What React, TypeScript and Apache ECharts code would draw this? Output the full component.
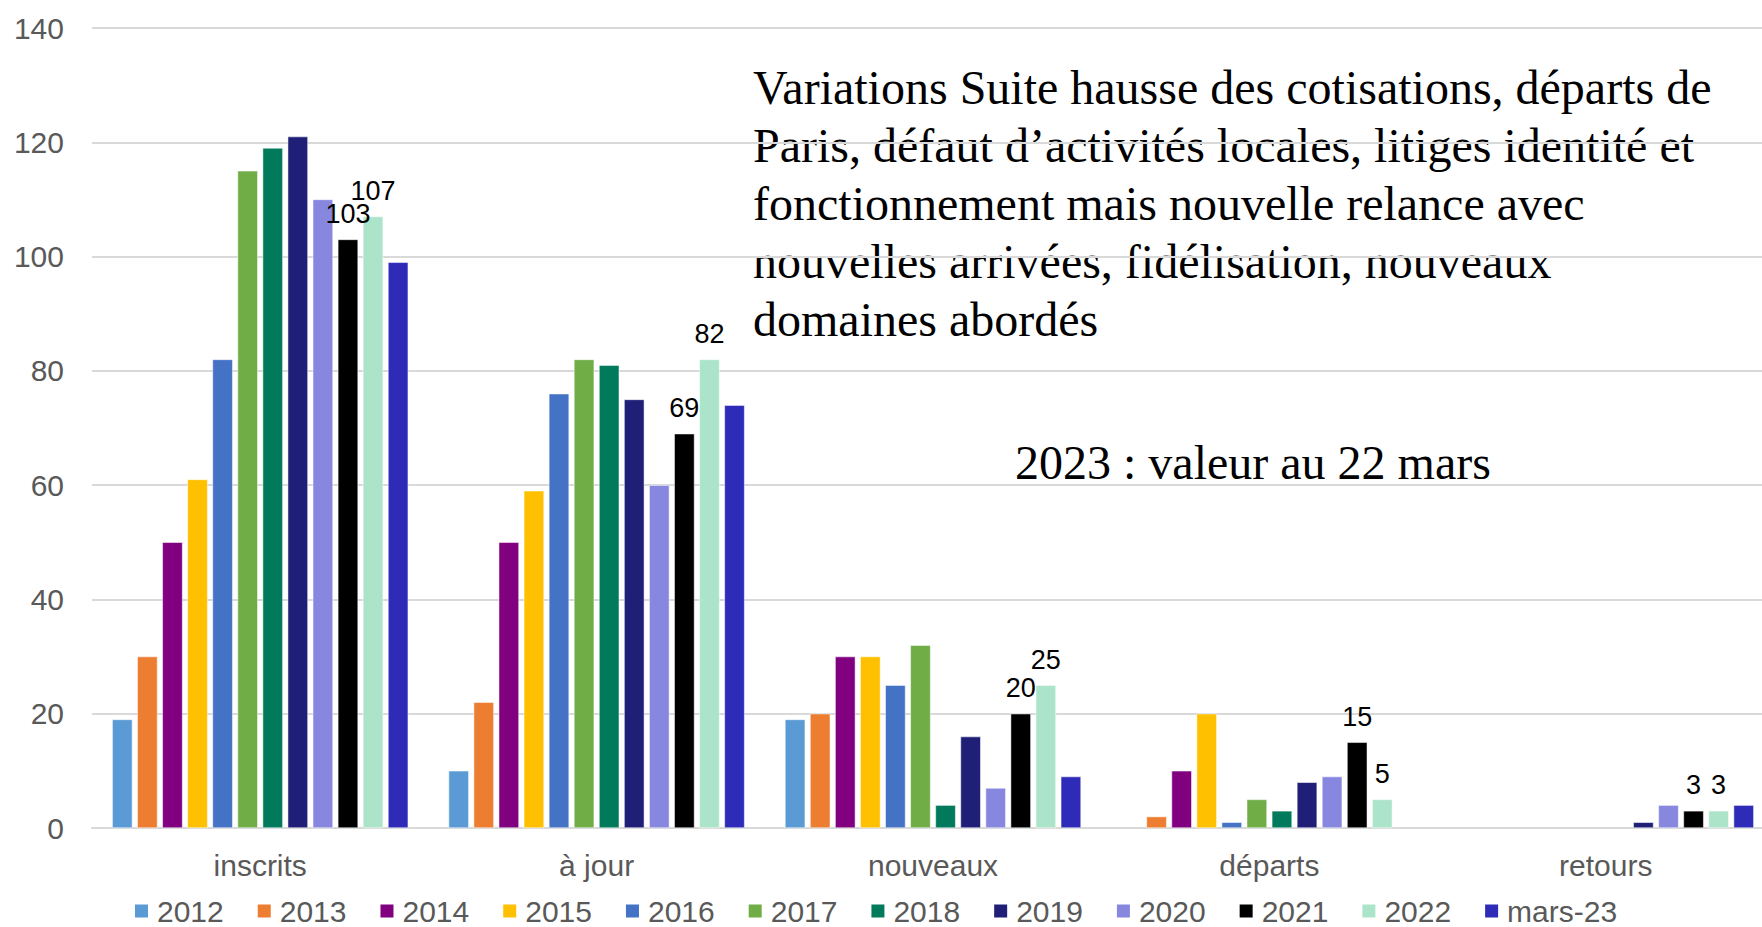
import React, { useEffect, useRef } from "react";
import * as echarts from "echarts";

const categories = ["inscrits", "à jour", "nouveaux", "départs", "retours"];
const seriesNames = ["2012", "2013", "2014", "2015", "2016", "2017", "2018", "2019", "2020", "2021", "2022", "mars-23"];
const seriesColors = ["#5B9BD5", "#ED7D31", "#800080", "#FFC000", "#4472C4", "#70AD47", "#007A5A", "#1F1F78", "#8787DF", "#000000", "#ACE4C9", "#2E2BB8"];

const v2012 = [19, 10, 19, null, null];
const v2013 = [30, 22, 20, 2, null];
const v2014 = [50, 50, 30, 10, null];
const v2015 = [61, 59, 30, 20, null];
const v2016 = [82, 76, 25, 1, null];
const v2017 = [115, 82, 32, 5, null];
const v2018 = [119, 81, 4, 3, null];
const v2019 = [121, 75, 16, 8, 1];
const v2020 = [110, 60, 7, 9, 4];
const v2021 = [103, 69, 20, 15, 3];
const v2022 = [107, 82, 25, 5, 3];
const vMars23 = [99, 74, 9, null, 4];

const seriesValues = [v2012, v2013, v2014, v2015, v2016, v2017, v2018, v2019, v2020, v2021, v2022, vMars23];
const labelledSeries = ["2021", "2022"];

const yTicks = { min: 0, max: 140, interval: 20 };

const noteText = [
  "Variations Suite hausse des cotisations, départs de",
  "Paris, défaut d’activités locales, litiges identité et",
  "fonctionnement mais nouvelle relance avec",
  "nouvelles arrivées, fidélisation, nouveaux",
  "domaines abordés",
];
const dateNote = "2023 : valeur au 22 mars";

export default function App() {
  const ref = useRef<HTMLDivElement>(null);
  useEffect(() => {
    if (!ref.current) return;
    const chart = echarts.init(ref.current, undefined, { renderer: "svg" });
    const sans = "'Liberation Sans', Arial, sans-serif";
    const serif = "'Liberation Serif', 'Times New Roman', serif";
    chart.setOption({
      animation: false,
      backgroundColor: "#ffffff",
      grid: { left: 92, width: 1682, top: 28, bottom: 99, containLabel: false, outerBoundsMode: "none" },
      legend: {
        data: seriesNames,
        top: 896,
        left: 133,
        itemWidth: 15,
        itemHeight: 15,
        itemGap: 32,
        icon: "rect",
        padding: 0,
        textStyle: { fontFamily: sans, fontSize: 30, lineHeight: 24, color: "#595959", padding: [0, 0, 0, 3] },
      },
      xAxis: {
        type: "category",
        data: categories,
        axisLine: { lineStyle: { color: "#D9D9D9", width: 2 } },
        axisTick: { show: false },
        axisLabel: { fontFamily: sans, fontSize: 30, color: "#595959", margin: 22 },
      },
      yAxis: {
        type: "value",
        min: yTicks.min,
        max: yTicks.max,
        interval: yTicks.interval,
        axisLine: { show: false },
        axisTick: { show: false },
        splitLine: { lineStyle: { color: "#D9D9D9", width: 2 } },
        axisLabel: { fontFamily: sans, fontSize: 30, color: "#595959", margin: 28 },
      },
      series: seriesNames.map((name, i) => ({
        name,
        type: "bar",
        data: seriesValues[i],
        barGap: "24%",
        barCategoryGap: "12%",
        itemStyle: { color: seriesColors[i], borderColor: "#ffffff", borderWidth: 0.5 },
        label: {
          show: labelledSeries.includes(name),
          position: "top",
          distance: 12,
          fontFamily: sans,
          fontSize: 27,
          color: "#000000",
        },
      })),
      graphic: [
        {
          type: "text",
          left: 753,
          top: 58,
          style: {
            text: noteText.join("\n"),
            fontFamily: serif,
            fontSize: 48,
            lineHeight: 58,
            fill: "#000000",
          },
        },
        {
          type: "text",
          left: 1015,
          top: 433,
          style: {
            text: dateNote,
            fontFamily: serif,
            fontSize: 48,
            lineHeight: 58,
            fill: "#000000",
          },
        },
      ],
    });
    return () => chart.dispose();
  }, []);
  return (
    <div
      ref={ref}
      style={{ position: "fixed", left: 0, top: 0, width: 1762, height: 927, background: "#fff" }}
    />
  );
}
